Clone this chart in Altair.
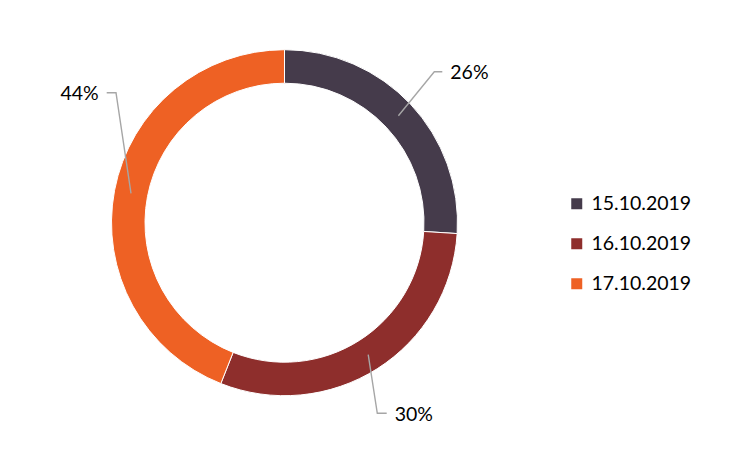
import altair as alt
import numpy as np
import pandas as pd

# ---- data ----
dates = ["15.10.2019", "16.10.2019", "17.10.2019"]
shares = [26, 30, 44]
colors = ["#453B4B", "#8E2E2C", "#EE6124"]

# ---- layout (pixels, chart coordinates) ----
CX, CY = 276.5, 214.7
R_OUT, R_IN = 173.0, 139.5
R_MID = (R_OUT + R_IN) / 2
elbows = [(426.3, 63.7), (369.3, 405.3), (108.0, 84.7)]
hook = [8.0, 9.4, -9.3]
TEXT_GAP = 8.0
FONT = "Lato"
FS = 19.5

df = pd.DataFrame({"date": dates, "value": shares, "ord": range(len(dates))})

total = float(sum(shares))
cum = np.cumsum([0] + shares)
mid = [(cum[i] + cum[i + 1]) / 2 / total * 2 * np.pi for i in range(len(shares))]

line_rows, text_rows = [], []
for i, (v, a) in enumerate(zip(shares, mid)):
    sx, sy = CX + R_MID * np.sin(a), CY - R_MID * np.cos(a)
    ex, ey = elbows[i]
    hx = ex + hook[i]
    line_rows += [
        {"k": i, "p": 0, "x": sx, "y": sy},
        {"k": i, "p": 1, "x": ex, "y": ey},
        {"k": i, "p": 2, "x": hx, "y": ey},
    ]
    text_rows.append({
        "k": i,
        "label": f"{v}%",
        "x": hx + (TEXT_GAP if hook[i] > 0 else -TEXT_GAP),
        "y": ey + 1.5,
        "side": "L" if hook[i] > 0 else "R",
    })
lines = pd.DataFrame(line_rows)
texts = pd.DataFrame(text_rows)

arc = alt.Chart(df).mark_arc(
    radius=R_OUT, radius2=R_IN, stroke="white", strokeWidth=1
).encode(
    theta=alt.Theta("value:Q", stack=True),
    order=alt.Order("ord:Q"),
    x=alt.value(CX),
    y=alt.value(CY),
    color=alt.Color(
        "date:N",
        scale=alt.Scale(domain=dates, range=colors),
        sort=dates,
        legend=alt.Legend(
            title=None,
            orient="none",
            legendX=559,
            legendY=186,
            symbolType="square",
            symbolSize=121,
            symbolStrokeWidth=0,
            labelFont=FONT,
            labelFontSize=FS,
            labelColor="#000000",
            labelOffset=5,
            rowPadding=19,
        ),
    ),
)

leader = alt.Chart(lines).mark_line(color="#A6A6A6", strokeWidth=1.4).encode(
    x=alt.X("x:Q", scale=None),
    y=alt.Y("y:Q", scale=None),
    detail="k:N",
    order="p:Q",
)

lab_left = alt.Chart(texts[texts.side == "L"]).mark_text(
    align="left", baseline="middle", font=FONT, fontSize=FS, color="#000000"
).encode(x=alt.X("x:Q", scale=None), y=alt.Y("y:Q", scale=None), text="label:N")

lab_right = alt.Chart(texts[texts.side == "R"]).mark_text(
    align="right", baseline="middle", font=FONT, fontSize=FS, color="#000000"
).encode(x=alt.X("x:Q", scale=None), y=alt.Y("y:Q", scale=None), text="label:N")

chart = alt.layer(arc, leader, lab_left, lab_right).properties(
    width=734, height=434, padding=0, autosize="none"
).configure_view(stroke=None)

chart.save("out.html", embed_options={"renderer": "svg", "actions": False})
